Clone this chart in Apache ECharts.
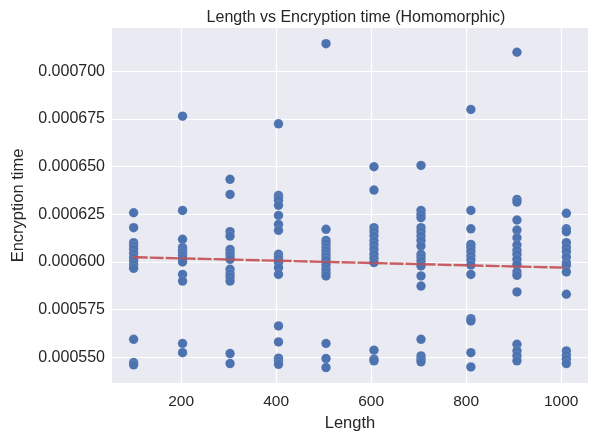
<!DOCTYPE html>
<html><head><meta charset="utf-8">
<script src="https://cdn.jsdelivr.net/npm/echarts@6/dist/echarts.min.js"></script>
<style>html,body{margin:0;padding:0;background:#fff}#c{width:589px;height:437px}</style>
</head><body><div id="c"></div>
<script>
const lengths = [100, 203, 303, 405, 505, 606, 705, 810, 907, 1011];
const times100 = [0.0006258, 0.000618, 0.0006101, 0.0006084, 0.0006066, 0.0006044, 0.0006023, 0.0006005, 0.0005984, 0.0005967, 0.0005595, 0.0005473, 0.0005461];
const times200 = [0.0006764, 0.000627, 0.0006119, 0.0006075, 0.0006061, 0.0006049, 0.0006035, 0.0006017, 0.0006, 0.0005935, 0.00059, 0.0005573, 0.0005525];
const times300 = [0.0006433, 0.0006354, 0.0006159, 0.0006136, 0.0006066, 0.0006049, 0.0006031, 0.0006014, 0.0005962, 0.0005939, 0.0005921, 0.00059, 0.000552, 0.0005468];
const times400 = [0.0006724, 0.0006349, 0.0006337, 0.0006323, 0.0006297, 0.0006244, 0.0006197, 0.0006166, 0.000604, 0.0006026, 0.0006014, 0.0005997, 0.000597, 0.0005935, 0.0005665, 0.0005581, 0.0005496, 0.0005482, 0.0005464];
const times500 = [0.0007144, 0.0006171, 0.0006113, 0.0006096, 0.0006075, 0.0006058, 0.000604, 0.0006026, 0.000601, 0.0005984, 0.0005962, 0.0005944, 0.0005927, 0.0005573, 0.0005494, 0.0005447];
const times600 = [0.0006499, 0.0006377, 0.000618, 0.0006159, 0.0006136, 0.000611, 0.0006089, 0.0006066, 0.000604, 0.0006019, 0.0005997, 0.0005538, 0.0005491, 0.0005482];
const times700 = [0.0006506, 0.000627, 0.0006249, 0.0006232, 0.000618, 0.0006159, 0.0006136, 0.0006113, 0.0006084, 0.000604, 0.0006023, 0.0006005, 0.0005979, 0.0005927, 0.0005874, 0.0005595, 0.0005508, 0.0005491, 0.0005477];
const times800 = [0.0006799, 0.000627, 0.0006174, 0.0006092, 0.0006075, 0.0006054, 0.0006031, 0.000601, 0.0005984, 0.0005935, 0.0005703, 0.0005691, 0.0005525, 0.000545];
const times900 = [0.0007099, 0.0006328, 0.0006314, 0.000622, 0.0006167, 0.0006127, 0.0006089, 0.0006061, 0.000604, 0.0006014, 0.0005988, 0.0005948, 0.000593, 0.0005843, 0.0005569, 0.0005534, 0.0005508, 0.0005482];
const times1000 = [0.0006255, 0.0006174, 0.0006159, 0.0006101, 0.0006075, 0.0006054, 0.0006026, 0.0005997, 0.0005983, 0.0005948, 0.0005831, 0.0005534, 0.0005511, 0.0005491, 0.0005468];
const trendX = [100, 1011];
const trendY = [0.0006025, 0.000597];
const xTicks = [200, 400, 600, 800, 1000];
const yTicks = [0.00055, 0.000575, 0.0006, 0.000625, 0.00065, 0.000675, 0.0007];

const columns = [times100, times200, times300, times400, times500, times600, times700, times800, times900, times1000];
const points = [];
columns.forEach((col, i) => col.forEach(v => points.push([lengths[i], v])));
const trend = trendX.map((x, i) => [x, trendY[i]]);

const txt = '#262626';
const font = 'Liberation Sans, Arial, sans-serif';
const chart = echarts.init(document.getElementById('c'), null, {renderer: 'canvas'});
chart.setOption({
  animation: false,
  backgroundColor: '#ffffff',
  title: {text: 'Length vs Encryption time (Homomorphic)', left: 351, textAlign: 'center', top: 5,
    textStyle: {fontFamily: font, fontSize: 16, fontWeight: 'normal', color: txt}},
  grid: {left: 112, right: 1, top: 28, bottom: 54, show: true, backgroundColor: '#EAEAF2', borderWidth: 0},
  xAxis: {type: 'value', min: 54.45, max: 1056.55,
    name: 'Length', nameLocation: 'middle', nameGap: 31,
    nameTextStyle: {fontFamily: font, fontSize: 16.5, color: txt},
    axisLine: {show: false},
    axisTick: {show: false, customValues: xTicks},
    axisLabel: {customValues: xTicks, fontFamily: font, fontSize: 15.5, color: txt, margin: 11,
      formatter: v => String(v)},
    splitLine: {show: true, lineStyle: {color: '#ffffff', width: 1.2}}},
  yAxis: {type: 'value', min: 0.0005366, max: 0.0007226,
    name: 'Encryption time', nameLocation: 'middle', nameGap: 78, nameRotate: 90,
    nameTextStyle: {fontFamily: font, fontSize: 16.5, color: txt},
    axisLine: {show: false},
    axisTick: {show: false, customValues: yTicks},
    axisLabel: {customValues: yTicks, fontFamily: font, fontSize: 16, color: txt, margin: 7,
      formatter: v => v.toFixed(6)},
    splitLine: {show: true, lineStyle: {color: '#ffffff', width: 1.2}}},
  series: [
    {type: 'scatter', data: points, symbolSize: 9.5,
      itemStyle: {color: '#4C72B0', opacity: 1, borderColor: 'rgba(255,255,255,0.3)', borderWidth: 0.4}},
    {type: 'line', data: trend, symbol: 'none', z: 3,
      lineStyle: {color: '#C44E52', width: 2.4, type: [14, 2], opacity: 0.9}}
  ]
});
</script></body></html>
